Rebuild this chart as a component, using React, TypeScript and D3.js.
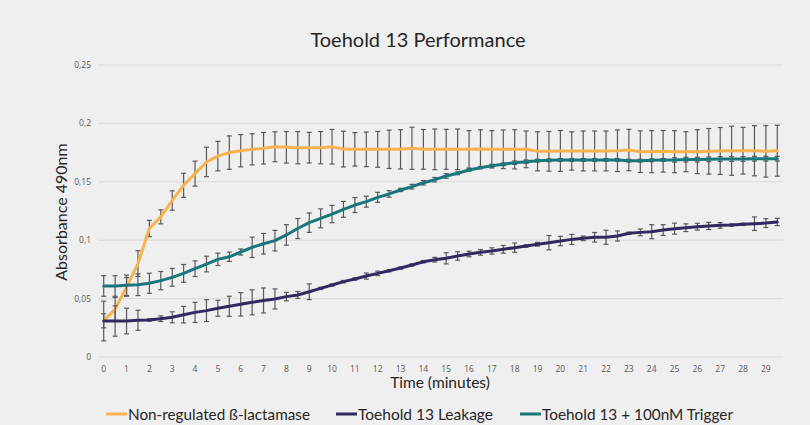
import React from "react";
import * as d3 from "d3";

const times: number[] = Array.from({ length: 60 }, (_, i) => i / 2);
const xTickLabels: string[] = Array.from({ length: 30 }, (_, i) => String(i));
const yTicks: number[] = [0, 0.05, 0.1, 0.15, 0.2, 0.25];
const yTickLabels: string[] = ["0", "0,05", "0,1", "0,15", "0,2", "0,25"];

const seriesNames: string[] = [
  "Non-regulated ß-lactamase",
  "Toehold 13 Leakage",
  "Toehold 13 + 100nM Trigger",
];
const seriesColors: string[] = ["#F9B34E", "#2F2A5F", "#19767A"];

const nonRegulated: number[] = [
  0.031, 0.041, 0.06, 0.08, 0.11, 0.12, 0.134, 0.147, 0.157, 0.167,
  0.172, 0.175, 0.1766, 0.1778, 0.1787, 0.18, 0.1795, 0.1792, 0.1792, 0.1792,
  0.18, 0.178, 0.1778, 0.1778, 0.1778, 0.1778, 0.1778, 0.1787, 0.1778, 0.1778,
  0.1778, 0.1778, 0.1778, 0.178, 0.1778, 0.1778, 0.1778, 0.1778, 0.1761, 0.1761,
  0.1764, 0.1764, 0.1764, 0.1764, 0.1764, 0.1766, 0.1772, 0.1758, 0.1758, 0.1761,
  0.1758, 0.1758, 0.1758, 0.1761, 0.1764, 0.1766, 0.1766, 0.1766, 0.1761, 0.1766,
];
const nonRegulatedErr: number[] = [
  0.006, 0.01, 0.008, 0.011, 0.007, 0.006, 0.0083, 0.0103, 0.0107, 0.0126,
  0.0126, 0.0143, 0.0138, 0.0133, 0.0135, 0.0128, 0.0135, 0.0138, 0.0131, 0.0138,
  0.0148, 0.0153, 0.0143, 0.0148, 0.0153, 0.0164, 0.0168, 0.018, 0.017, 0.0174,
  0.0171, 0.0174, 0.016, 0.0165, 0.016, 0.0165, 0.0168, 0.0157, 0.0167, 0.017,
  0.0175, 0.0164, 0.0171, 0.0171, 0.0171, 0.0178, 0.0177, 0.0178, 0.018, 0.0178,
  0.018, 0.0171, 0.0188, 0.0195, 0.0201, 0.021, 0.02, 0.0215, 0.0221, 0.0218,
];

const leakage: number[] = [
  0.0308, 0.0308, 0.0308, 0.0314, 0.0317, 0.0328, 0.034, 0.0362, 0.0382, 0.0397,
  0.0417, 0.0434, 0.0451, 0.0468, 0.0484, 0.0497, 0.0517, 0.0531, 0.0559, 0.0588,
  0.0616, 0.0645, 0.0668, 0.0693, 0.0716, 0.0739, 0.0762, 0.0788, 0.0816, 0.0833,
  0.0845, 0.0865, 0.0882, 0.0896, 0.0908, 0.0922, 0.0936, 0.095, 0.0965, 0.0979,
  0.0993, 0.1007, 0.1016, 0.1025, 0.1025, 0.1036, 0.1059, 0.1067, 0.1073, 0.1087,
  0.1099, 0.1107, 0.1116, 0.1122, 0.1127, 0.113, 0.1136, 0.1141, 0.1147, 0.1156,
];
const leakageErr: number[] = [
  0.017, 0.013, 0.011, 0.0086, 0.001, 0.0024, 0.0047, 0.0071, 0.0086, 0.0093,
  0.0068, 0.0086, 0.01, 0.0107, 0.0107, 0.0086, 0.0036, 0.003, 0.0067, 0.001,
  0.001, 0.001, 0.001, 0.0026, 0.0019, 0.001, 0.001, 0.001, 0.001, 0.002,
  0.0048, 0.0036, 0.0024, 0.0024, 0.0027, 0.0033, 0.004, 0.001, 0.0016, 0.0061,
  0.004, 0.0043, 0.002, 0.0041, 0.006, 0.0043, 0.001, 0.0029, 0.006, 0.0046,
  0.0047, 0.0033, 0.0029, 0.0031, 0.0024, 0.001, 0.001, 0.0058, 0.0038, 0.0031,
];

const trigger: number[] = [
  0.0608, 0.0608, 0.0614, 0.0619, 0.0631, 0.0654, 0.0682, 0.0716, 0.0756, 0.0796,
  0.0836, 0.0858, 0.0899, 0.0939, 0.097, 0.0996, 0.1045, 0.11, 0.115, 0.1187,
  0.1224, 0.1264, 0.1301, 0.133, 0.1367, 0.1396, 0.143, 0.1458, 0.1492, 0.1518,
  0.155, 0.1573, 0.1601, 0.1621, 0.1638, 0.165, 0.1664, 0.1672, 0.1681, 0.1684,
  0.1687, 0.1687, 0.1687, 0.1687, 0.1687, 0.1687, 0.1681, 0.1681, 0.1684, 0.1687,
  0.1687, 0.169, 0.169, 0.1692, 0.1695, 0.1695, 0.1695, 0.1698, 0.1698, 0.1698,
];
const triggerErr: number[] = [
  0.0088, 0.0088, 0.0087, 0.0093, 0.0086, 0.0078, 0.0076, 0.0076, 0.0067, 0.0067,
  0.0053, 0.004, 0.0026, 0.0087, 0.0088, 0.0088, 0.0088, 0.0086, 0.0083, 0.0081,
  0.0074, 0.0068, 0.0064, 0.0047, 0.0043, 0.0028, 0.0014, 0.002, 0.0019, 0.0019,
  0.002, 0.0012, 0.001, 0.001, 0.0012, 0.0012, 0.0015, 0.0015, 0.0012, 0.0012,
  0.0012, 0.0012, 0.0012, 0.0012, 0.0012, 0.0012, 0.0012, 0.0012, 0.0012, 0.0012,
  0.0019, 0.002, 0.002, 0.002, 0.002, 0.002, 0.002, 0.002, 0.002, 0.002,
];

const seriesValues: number[][] = [nonRegulated, leakage, trigger];
const seriesErrors: number[][] = [nonRegulatedErr, leakageErr, triggerErr];

const W = 810;
const H = 425;
const plotLeft = 98;
const plotRight = 783;
const plotTop = 65;
const plotBottom = 357;

export default function App() {
  const x = d3
    .scaleBand<number>()
    .domain(times.map((_, i) => i))
    .range([plotLeft, plotRight]);
  const bw = x.bandwidth();
  const cx = (i: number) => (x(i) as number) + bw / 2;
  const y = d3.scaleLinear().domain([0, 0.25]).range([plotBottom, plotTop]);

  const line = d3
    .line<number>()
    .x((_, i) => cx(i))
    .y((d) => y(d))
    .curve(d3.curveLinear);

  const tickFont = "'Open Sans', 'Liberation Sans', sans-serif";
  const titleFont = "Lato, 'Open Sans', sans-serif";

  const legendX = [106, 336, 520];
  const legendLen = [182, 135, 191];

  return (
    <svg
      width={W}
      height={H}
      style={{ position: "absolute", left: 0, top: 0 }}
      xmlns="http://www.w3.org/2000/svg"
    >
      <rect x={0} y={0} width={W} height={H} fill="#EFEFEF" />
      <text
        x={418}
        y={47}
        textAnchor="middle"
        fontFamily={titleFont}
        fontSize={20}
        fill="#262626"
      >
        Toehold 13 Performance
      </text>

      {yTicks.map((t, k) => (
        <g key={"gy" + k}>
          <line
            x1={plotLeft}
            x2={plotRight}
            y1={y(t)}
            y2={y(t)}
            stroke="#D9D9D9"
            strokeWidth={1}
          />
          <text
            x={91}
            y={y(t) + 3}
            textAnchor="end"
            fontFamily={tickFont}
            fontSize={8.5}
            fill="#595959"
          >
            {yTickLabels[k]}
          </text>
        </g>
      ))}

      {xTickLabels.map((lab, k) => (
        <text
          key={"xt" + k}
          x={cx(k * 2)}
          y={372}
          textAnchor="middle"
          fontFamily={tickFont}
          fontSize={8.5}
          fill="#595959"
        >
          {lab}
        </text>
      ))}

      <text
        x={440}
        y={388}
        textAnchor="middle"
        fontFamily={titleFont}
        fontSize={15.5}
        fill="#262626"
      >
        Time (minutes)
      </text>
      <text
        transform={`translate(67,212) rotate(-90)`}
        textAnchor="middle"
        fontFamily={titleFont}
        fontSize={16}
        fill="#262626"
      >
        Absorbance 490nm
      </text>

      {seriesValues.map((vals, s) => (
        <g key={"s" + s}>
          {vals.map((v, i) => {
            const e = seriesErrors[s][i];
            const xx = cx(i);
            const y1 = y(v + e);
            const y2 = y(v - e);
            return (
              <g key={"e" + i} stroke="#595959" strokeWidth={1.2}>
                <line x1={xx} x2={xx} y1={y1} y2={y2} />
                <line x1={xx - 2.5} x2={xx + 2.5} y1={y1} y2={y1} />
                <line x1={xx - 2.5} x2={xx + 2.5} y1={y2} y2={y2} />
              </g>
            );
          })}
          <path
            d={line(vals) || ""}
            fill="none"
            stroke={seriesColors[s]}
            strokeWidth={3}
            strokeLinejoin="round"
            strokeLinecap="round"
          />
        </g>
      ))}

      {seriesNames.map((name, s) => (
        <g key={"lg" + s}>
          <line
            x1={legendX[s]}
            x2={legendX[s] + 21}
            y1={414}
            y2={414}
            stroke={seriesColors[s]}
            strokeWidth={3}
          />
          <text
            x={legendX[s] + 22}
            y={420}
            fontFamily={titleFont}
            fontSize={16}
            fill="#262626"
            textLength={legendLen[s]}
            lengthAdjust="spacingAndGlyphs"
          >
            {name}
          </text>
        </g>
      ))}
    </svg>
  );
}
